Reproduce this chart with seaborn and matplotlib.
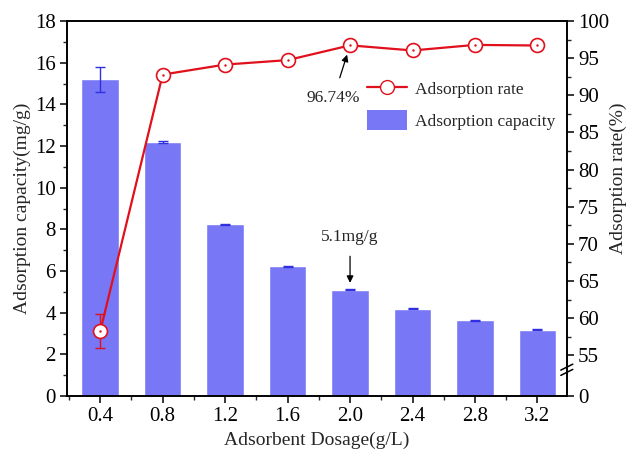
import numpy as np
import pandas as pd
import matplotlib
matplotlib.use('Agg')
import matplotlib.pyplot as plt
import seaborn as sns
from matplotlib.ticker import MultipleLocator, FixedLocator
from matplotlib.lines import Line2D
from matplotlib.patches import Patch

dosage = ['0.4', '0.8', '1.2', '1.6', '2.0', '2.4', '2.8', '3.2']
capacity = [15.2, 12.2, 8.25, 6.22, 5.1, 4.2, 3.63, 3.18]
capacity_err = [0.62, 0.03, 0.03, 0.02, 0.03, 0.02, 0.02, 0.02]
rate = [58.2, 92.8, 94.15, 94.75, 96.74, 96.05, 96.8, 96.72]
rate_err = [2.3, 0, 0, 0, 0, 0, 0, 0]
rate_ticks = [55, 60, 65, 70, 75, 80, 85, 90, 95, 100]

sns.set_style('ticks')
plt.rcParams['font.family'] = ['Liberation Serif', 'DejaVu Serif']

bar_color = '#7878f6'
line_color = '#e0101c'

fig = plt.figure(figsize=(6.27, 4.5), dpi=100)
ax = fig.add_axes([0.107, 0.12, 0.797, 0.833])

df = pd.DataFrame({'dosage': dosage, 'capacity': capacity})
sns.barplot(data=df, x='dosage', y='capacity', color=bar_color, saturation=1,
            width=0.6, errorbar=None, ax=ax)
ax.errorbar(np.arange(len(dosage)), capacity, yerr=capacity_err, fmt='none',
            ecolor='#3030e0', elinewidth=1, capsize=3.5, capthick=1)
ax.set_ylim(0, 18)
ax.set_xlim(-0.53, 7.47)
ax.yaxis.set_major_locator(MultipleLocator(2))
ax.yaxis.set_minor_locator(MultipleLocator(1))
ax.xaxis.set_minor_locator(FixedLocator(np.arange(-0.5, 8, 1)))
ax.set_xlabel('Adsorbent Dosage(g/L)', fontsize=14, labelpad=4)
ax.set_ylabel('Adsorption capacity(mg/g)', fontsize=14, labelpad=3)

# right axis: 0, break, 55-100
ax2 = ax.twinx()
ybot = 49.5
ax2.errorbar(np.arange(len(dosage)), rate, yerr=rate_err, fmt='none',
             ecolor=line_color, elinewidth=1, capsize=3.5, capthick=1, zorder=3)
sns.lineplot(x=np.arange(len(dosage)), y=rate, ax=ax2, color=line_color, lw=1.6,
             marker='o', markersize=10, markerfacecolor='white',
             markeredgecolor=line_color, markeredgewidth=1.2, zorder=4)
ax2.plot(np.arange(len(dosage)), rate, ls='none', marker='.', markersize=1.5,
         color=line_color, zorder=5)
ax2.set_ylim(ybot, 100)
ax2.set_yticks([ybot] + rate_ticks)
ax2.set_yticklabels(['0'] + [str(t) for t in rate_ticks])
ax2.yaxis.set_minor_locator(FixedLocator(np.arange(57.5, 100, 5)))
ax2.set_ylabel('Adsorption rate(%)', fontsize=14)
ax2.yaxis.set_label_coords(1.086, 0.58)

for a in (ax, ax2):
    for s in a.spines.values():
        s.set_linewidth(1.2)
        s.set_color('black')
    a.tick_params(which='major', direction='out', length=5, width=1.1,
                  labelsize=15, colors='black', pad=3)
    a.tick_params(which='minor', direction='out', length=3, width=1.0)

# axis break marks
for yb in (0.063, 0.077):
    ax2.plot([0.988, 1.012], [yb - 0.008, yb + 0.008], transform=ax2.transAxes,
             color='black', lw=1.1, clip_on=False, zorder=10)

# annotations
ax2.annotate('96.74%', xy=(4, 96.74), xytext=(3.73, 89.6), fontsize=12.5,
             ha='center', va='center',
             arrowprops=dict(arrowstyle='-|>', color='black', lw=0.9,
                             shrinkA=7, shrinkB=7, mutation_scale=10))
ax.annotate('5.1mg/g', xy=(4, 5.1), xytext=(4, 7.65), fontsize=12.5,
            ha='center', va='center',
            arrowprops=dict(arrowstyle='-|>', color='black', lw=0.9,
                            shrinkA=6, shrinkB=5, mutation_scale=10))

# legend
handles = [Line2D([], [], color=line_color, lw=1.6, marker='o', markersize=10,
                  markerfacecolor='white', markeredgecolor=line_color),
           Patch(facecolor=bar_color, edgecolor='none')]
fig.legend(handles, ['Adsorption rate', 'Adsorption capacity'],
           loc='upper left', bbox_to_anchor=(0.56, 0.86), frameon=False,
           fontsize=12.5, handlelength=2.3, handleheight=1.4, labelspacing=0.65,
           handletextpad=0.5)

fig.savefig('out.png', dpi=100)
